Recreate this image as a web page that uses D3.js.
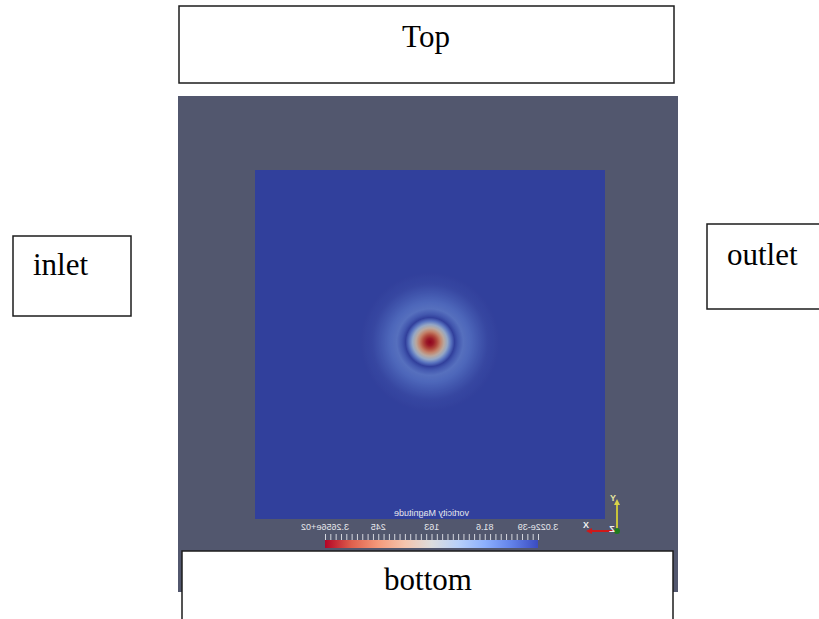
<!DOCTYPE html>
<html>
<head>
<meta charset="utf-8">
<script src="https://cdn.jsdelivr.net/npm/d3@7/dist/d3.min.js"></script>
<style>
  html, body { margin: 0; padding: 0; background: #ffffff; }
  svg { display: block; }
</style>
</head>
<body>
<script>
// Boundary names of the computational box
const boundaryLabels = ["Top", "inlet", "outlet", "bottom"];

// Vorticity magnitude range of the colour legend
const vortRange = [3.022e-39, 326.56];
const legendTickValues = [3.022e-39, 81.6, 163, 245, 326.56];
const legendTickLabels = ["3.022e-39", "81.6", "163", "245", "3.2656e+02"];
const legendTitle = "vorticity Magnitude";

// Radial profile of vorticity magnitude around the vortex centre (domain units)
const profileRadius = [0, 0.1, 0.2, 0.3, 0.4, 0.5, 0.6, 0.7, 0.8, 0.95, 1.15, 1.4, 1.65, 2.0];
const profileVort   = [326.56, 314, 288, 238, 182, 125, 55, 3, 26, 50, 40, 24, 10, 3];
const vortexCenter = [5.0, 5.07];
const domainExtent = [0, 10];

// Cool-to-warm colour map control colours, low -> high
const coolWarm = ["#3b4cc0", "#6282ea", "#8db0fe", "#b8d0f9", "#dddddd",
                  "#f5c4ad", "#f49a7b", "#de604d", "#b40426"];

const W = 819, H = 619;
const svg = d3.select("body").append("svg").attr("width", W).attr("height", H);
const defs = svg.append("defs");

const color = d3.scaleLinear()
  .domain(coolWarm.map((_, i) => vortRange[0] + i * (vortRange[1] - vortRange[0]) / (coolWarm.length - 1)))
  .range(coolWarm)
  .interpolate(d3.interpolateRgb);

// Render window background
svg.append("rect")
  .attr("x", 178).attr("y", 96).attr("width", 500).attr("height", 496)
  .attr("fill", "rgb(82,87,110)");

// Domain scales (view is seen from -z, so x runs right-to-left)
const x = d3.scaleLinear().domain(domainExtent).range([605, 255]);
const y = d3.scaleLinear().domain(domainExtent).range([519, 170]);

defs.append("clipPath").attr("id", "domainClip")
  .append("rect")
  .attr("x", x(domainExtent[1])).attr("y", y(domainExtent[1]))
  .attr("width", x(domainExtent[0]) - x(domainExtent[1]))
  .attr("height", y(domainExtent[0]) - y(domainExtent[1]));

const field = svg.append("g").attr("clip-path", "url(#domainClip)");

field.append("rect")
  .attr("x", x(domainExtent[1])).attr("y", y(domainExtent[1]))
  .attr("width", x(domainExtent[0]) - x(domainExtent[1]))
  .attr("height", y(domainExtent[0]) - y(domainExtent[1]))
  .attr("fill", color(profileVort[profileVort.length - 1]));

// Vortex: radial profile mapped through the colour map
const rMax = profileRadius[profileRadius.length - 1];
const rg = defs.append("radialGradient").attr("id", "vortexGrad");
rg.selectAll("stop").data(profileRadius).join("stop")
  .attr("offset", (d) => d / rMax)
  .attr("stop-color", (d, i) => color(profileVort[i]));

field.append("circle")
  .attr("cx", x(vortexCenter[0]))
  .attr("cy", y(vortexCenter[1]))
  .attr("r", Math.abs(x(rMax) - x(0)))
  .attr("fill", "url(#vortexGrad)");

// Surface lighting
field.append("rect")
  .attr("x", x(domainExtent[1])).attr("y", y(domainExtent[1]))
  .attr("width", x(domainExtent[0]) - x(domainExtent[1]))
  .attr("height", y(domainExtent[0]) - y(domainExtent[1]))
  .attr("fill", "#000").attr("opacity", 0.2);

// Colour legend (mirrored with the view)
const lx = d3.scaleLinear().domain(vortRange).range([538, 325]);
const lg = defs.append("linearGradient").attr("id", "legendGrad")
  .attr("gradientUnits", "userSpaceOnUse")
  .attr("x1", lx(vortRange[0])).attr("x2", lx(vortRange[1]))
  .attr("y1", 0).attr("y2", 0);
lg.selectAll("stop").data(color.domain()).join("stop")
  .attr("offset", (d) => (d - vortRange[0]) / (vortRange[1] - vortRange[0]))
  .attr("stop-color", (d) => color(d));

svg.append("rect")
  .attr("x", lx(vortRange[1])).attr("y", 540)
  .attr("width", lx(vortRange[0]) - lx(vortRange[1])).attr("height", 8)
  .attr("fill", "url(#legendGrad)");

const minorTicks = d3.range(0, 41).map((i) => vortRange[0] + i * (vortRange[1] - vortRange[0]) / 40);
const axisG = svg.append("g").attr("transform", "translate(0,540)")
  .call(d3.axisTop(lx).tickValues(minorTicks).tickSize(6).tickFormat(""));
axisG.select(".domain").remove();
axisG.selectAll(".tick line").attr("stroke", "#d4d6de").attr("stroke-width", 1);

svg.append("g").selectAll("text").data(legendTickValues).join("text")
  .attr("transform", (d) => `translate(${lx(d)},530) scale(-1,1)`)
  .attr("text-anchor", "middle")
  .attr("font-family", "'Liberation Sans', Arial, sans-serif")
  .attr("font-size", 9)
  .attr("fill", "#e6e7ec")
  .text((d, i) => legendTickLabels[i]);

svg.append("text")
  .attr("transform", `translate(${(lx(vortRange[0]) + lx(vortRange[1])) / 2},516) scale(-1,1)`)
  .attr("text-anchor", "middle")
  .attr("font-family", "'Liberation Sans', Arial, sans-serif")
  .attr("font-size", 9)
  .attr("fill", "#e6e7ec")
  .text(legendTitle);

// Orientation axes
const triad = svg.append("g").attr("transform", "translate(617,531)");
triad.append("line").attr("x1", 0).attr("y1", 0).attr("x2", -27).attr("y2", 0)
  .attr("stroke", "#d01818").attr("stroke-width", 2);
triad.append("path").attr("d", "M-31,0 L-25,-3 L-25,3 Z").attr("fill", "#d01818");
triad.append("line").attr("x1", 0).attr("y1", 0).attr("x2", 0).attr("y2", -28)
  .attr("stroke", "#c8c43a").attr("stroke-width", 2);
triad.append("path").attr("d", "M0,-32 L-3,-26 L3,-26 Z").attr("fill", "#d8d44a");
triad.append("circle").attr("r", 3).attr("fill", "#1f7a1f");
const triadLabels = [["X", -31, -3, "#f0f0f0"], ["Y", -4, -30, "#e8e6a0"], ["Z", -5, 1, "#f0f0f0"]];
triad.selectAll("text.axl").data(triadLabels).join("text")
  .attr("class", "axl")
  .attr("transform", (d) => `translate(${d[1]},${d[2]}) scale(-1,1)`)
  .attr("text-anchor", "middle")
  .attr("font-family", "'Liberation Sans', Arial, sans-serif")
  .attr("font-size", 9).attr("font-weight", "bold")
  .attr("fill", (d) => d[3])
  .text((d) => d[0]);

// Boundary name boxes
const boxLayout = {
  "Top":    { x: 179, y: 6,   w: 495, h: 77, tx: 426, ty: 47,  anchor: "middle" },
  "inlet":  { x: 13,  y: 236, w: 118, h: 80, tx: 33,  ty: 275, anchor: "start" },
  "outlet": { x: 707, y: 224, w: 120, h: 85, tx: 727, ty: 265, anchor: "start" },
  "bottom": { x: 182, y: 551, w: 491, h: 90, tx: 428, ty: 590, anchor: "middle" }
};
const boxes = svg.append("g").selectAll("g").data(boundaryLabels).join("g");
boxes.append("rect")
  .attr("x", (d) => boxLayout[d].x).attr("y", (d) => boxLayout[d].y)
  .attr("width", (d) => boxLayout[d].w).attr("height", (d) => boxLayout[d].h)
  .attr("fill", "#ffffff").attr("stroke", "#1c1c1c").attr("stroke-width", 1.5);
boxes.append("text")
  .attr("x", (d) => boxLayout[d].tx).attr("y", (d) => boxLayout[d].ty)
  .attr("text-anchor", (d) => boxLayout[d].anchor)
  .attr("font-family", "'Liberation Serif', 'Times New Roman', serif")
  .attr("font-size", 31)
  .attr("fill", "#000")
  .text((d) => d);
</script>
</body>
</html>
